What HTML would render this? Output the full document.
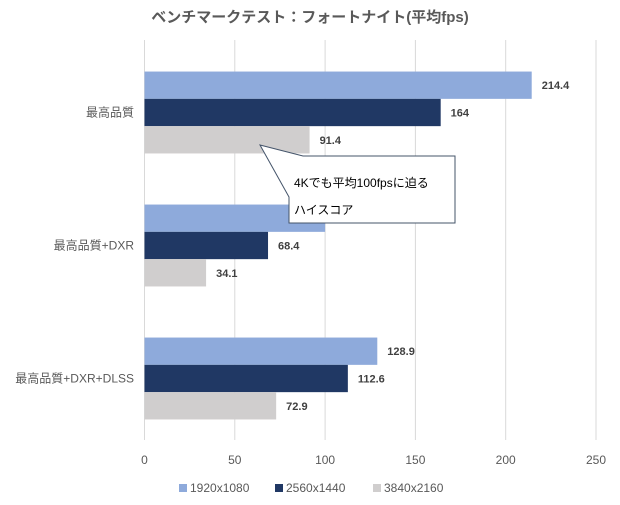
<!DOCTYPE html>
<html><head><meta charset="utf-8">
<style>
body{margin:0;background:#fff;font-family:"Liberation Sans","Noto Sans CJK JP",sans-serif;}
svg text{font-family:"Liberation Sans","Noto Sans CJK JP",sans-serif;}
</style></head>
<body>
<svg id="chart" width="620" height="500" xmlns="http://www.w3.org/2000/svg">
<rect width="620" height="500" fill="#fff"/>
<text x="310" y="22" text-anchor="middle" font-size="15" font-weight="bold" fill="#595959">ベンチマークテスト：フォートナイト(平均fps)</text>
<g id="grid"></g><g id="bars"></g><g id="labels"></g>
<g>
<polygon points="260,145 303,156 455,156 455,223 289,223 289,197" fill="#fff" stroke="#44546a" stroke-width="1"/>
<text x="294" y="187" font-size="12" fill="#000">4Kでも平均100fpsに迫る</text>
<text x="294" y="214" font-size="12" fill="#000">ハイスコア</text>
</g>
<g id="legend"></g>
</svg>
<script>
const categories=["最高品質","最高品質+DXR","最高品質+DXR+DLSS"];
const seriesNames=["1920x1080","2560x1440","3840x2160"];
const s1080=[214.4,100,128.9];
const s1440=[164,68.4,112.6];
const s2160=[91.4,34.1,72.9];
const ticks=[0,50,100,150,200,250];
const series=[s1080,s1440,s2160];
const colors=["#8eaadb","#203864","#d0cece"];
const NS="http://www.w3.org/2000/svg";
const x0=144.5,x1=596,xmax=250;
const xs=v=>x0+(x1-x0)*v/xmax;
const plotTop=40,catH=133,barH=27.3;
function mk(tag,attrs,parent){const e=document.createElementNS(NS,tag);for(const k in attrs)e.setAttribute(k,attrs[k]);document.getElementById(parent).appendChild(e);return e;}
ticks.forEach(t=>{
  const l=mk("line",{x1:xs(t),x2:xs(t),y1:plotTop,y2:440,stroke:"#d9d9d9","stroke-width":1},"grid");
  
  
  const tx=mk("text",{x:xs(t),y:464,"text-anchor":"middle","font-size":12,fill:"#595959"},"grid");
  tx.textContent=t;
  
  
});
categories.forEach((c,i)=>{
  const cy=plotTop+catH*i+catH/2+6;
  const ct=mk("text",{x:134,y:cy+4,"text-anchor":"end","font-size":12,fill:"#595959"},"labels");
  ct.textContent=c;
  
  
  series.forEach((s,j)=>{
    const y=cy-1.5*barH+j*barH;
    const r=mk("rect",{x:x0,y:y,width:xs(s[i])-x0,height:barH,fill:colors[j]},"bars");
    
    
    const vt=mk("text",{x:xs(s[i])+10,y:y+barH/2+4,"font-size":11,"font-weight":"bold",fill:"#404040"},"labels");
    vt.textContent=s[i];
    
    
  });
});
const lx=[179,275,373];
seriesNames.forEach((n,j)=>{
  const r=mk("rect",{x:lx[j],y:484,width:8,height:8,fill:colors[j]},"legend");
  
  
  const t=mk("text",{x:lx[j]+11,y:492,"font-size":12,fill:"#595959"},"legend");
  t.textContent=n;
  
  
});
</script>
</body></html>
